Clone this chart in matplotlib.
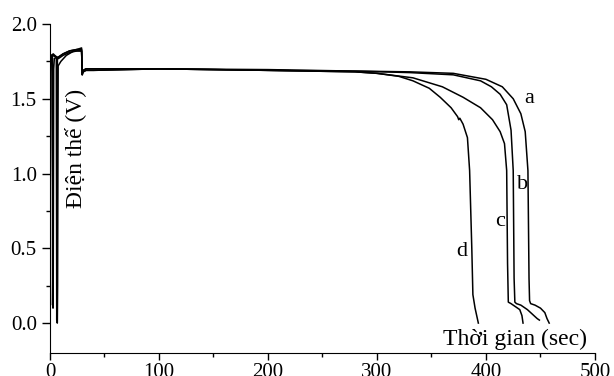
import matplotlib
matplotlib.use('Agg')
import matplotlib.pyplot as plt
from matplotlib.ticker import MultipleLocator

plt.rcParams['font.family'] = ['Liberation Serif', 'DejaVu Serif']

# discharge curves (time in sec, voltage in V)
t_a = [0, 0.6, 1.2, 3, 5.8, 6.2, 6.8, 8, 12, 18, 25, 29, 29.6, 30.5, 33, 40, 100, 200, 280, 330,
       370, 400, 415, 425, 432, 436, 438.5, 439.5, 440, 441, 445, 450, 454, 456, 458]
v_a = [0.3, 1.70, 1.79, 1.80, 1.78, 0.02, 1.76, 1.78, 1.80, 1.82, 1.83, 1.84, 1.66, 1.69, 1.70, 1.70, 1.70, 1.695, 1.685, 1.68,
       1.67, 1.63, 1.58, 1.50, 1.40, 1.28, 1.02, 0.30, 0.15, 0.13, 0.12, 0.10, 0.07, 0.03, 0.0]

t_b = [0, 0.5, 1.0, 2.2, 2.4, 2.6, 2.8, 3.0, 3.4, 4, 8, 12, 18, 25, 29, 29.6, 30.5, 33, 40, 100, 200, 280, 330,
       370, 395, 405, 413, 419, 423, 425, 425.8, 426.5, 428, 432, 438, 444, 447, 449]
v_b = [0.2, 1.72, 1.79, 1.79, 0.12, 0.33, 0.10, 0.30, 1.70, 1.77, 1.78, 1.80, 1.82, 1.83, 1.83, 1.67, 1.69, 1.70, 1.70, 1.70, 1.69, 1.685, 1.675,
       1.66, 1.62, 1.58, 1.53, 1.46, 1.29, 1.02, 0.30, 0.14, 0.13, 0.12, 0.09, 0.05, 0.03, 0.02]

t_c = [0, 0.5, 1.2, 3, 6.4, 6.7, 7.0, 7.5, 10, 15, 22, 29, 29.6, 30.5, 33, 40, 100, 200, 280,
       300, 333, 360, 379, 395, 406, 413, 417, 419, 419.8, 420.5, 423, 427, 431, 433, 434]
v_c = [0.15, 1.68, 1.78, 1.79, 1.78, 0.0, 0.25, 1.72, 1.75, 1.79, 1.82, 1.82, 1.66, 1.68, 1.69, 1.69, 1.70, 1.69, 1.68,
       1.67, 1.64, 1.58, 1.51, 1.44, 1.36, 1.28, 1.20, 1.02, 0.40, 0.14, 0.13, 0.11, 0.09, 0.05, 0.0]

t_d = [0, 0.4, 0.8, 1.5, 3, 5, 8, 12, 18, 25, 29, 29.6, 30.5, 33, 40, 100, 200, 280,
       300, 320, 333, 348, 358, 368, 374, 375, 376, 379, 383, 385, 387, 388, 390, 393]
v_d = [-0.03, 1.65, 1.76, 1.78, 1.79, 1.78, 1.77, 1.79, 1.81, 1.82, 1.82, 1.67, 1.68, 1.69, 1.69, 1.70, 1.69, 1.68,
       1.67, 1.65, 1.62, 1.57, 1.51, 1.44, 1.38, 1.36, 1.37, 1.33, 1.24, 1.02, 0.50, 0.19, 0.10, 0.0]

curves = [(t_a, v_a), (t_b, v_b), (t_c, v_c), (t_d, v_d)]
curve_names = ['a', 'b', 'c', 'd']
name_x = [440, 434, 413, 378]
name_y = [1.50, 0.93, 0.68, 0.48]

fig = plt.figure(figsize=(6.14, 3.76), dpi=100)
ax = fig.add_axes([0.0814, 0.0612, 0.8876, 0.875])

for t, v in curves:
    ax.plot(t, v, color='black', lw=1.1)

for n, x, y in zip(curve_names, name_x, name_y):
    ax.text(x, y, n, fontsize=16, ha='center', va='center')

ax.text(427, -0.107, 'Thời gian (sec)', fontsize=17, ha='center', va='center')
ax.text(23, 1.17, 'Điện thế (V)', fontsize=17, ha='center', va='center', rotation=90)

ax.set_xlim(0, 500)
ax.set_ylim(-0.2, 2.0)
ax.xaxis.set_major_locator(MultipleLocator(100))
ax.xaxis.set_minor_locator(MultipleLocator(50))
ax.yaxis.set_major_locator(MultipleLocator(0.5))
ax.yaxis.set_minor_locator(MultipleLocator(0.25))
ax.yaxis.set_major_formatter(matplotlib.ticker.FormatStrFormatter('%.1f'))
ax.spines['top'].set_visible(False)
ax.spines['right'].set_visible(False)
ax.tick_params(which='major', length=5, width=1, labelsize=15, direction='out')
ax.tick_params(which='minor', length=3, width=1, direction='out')
ax.tick_params(axis='y', which='major', length=6)
ax.tick_params(axis='x', which='major', pad=2)

fig.savefig('out.png', dpi=100)
